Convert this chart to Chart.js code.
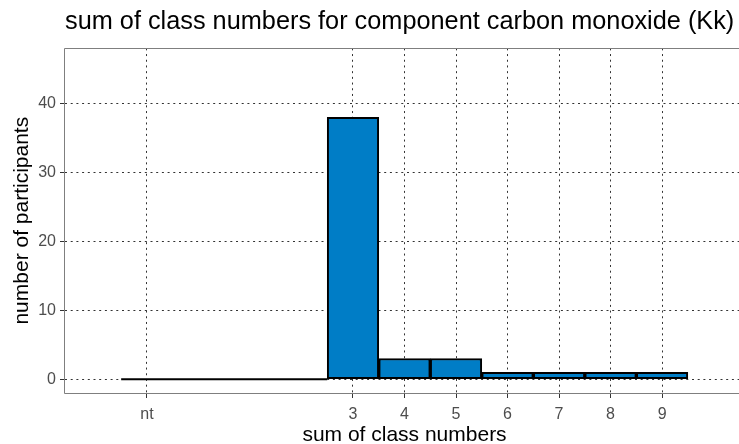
<!DOCTYPE html>
<html>
<head>
<meta charset="utf-8">
<title>sum of class numbers</title>
<script src="https://cdn.jsdelivr.net/npm/chart.js@4.4.1/dist/chart.umd.min.js"></script>
<style>
  html, body { margin: 0; padding: 0; background: #fff; overflow: hidden; }
  #wrap { width: 800px; height: 444px; }
</style>
</head>
<body>
<div id="wrap"><canvas id="classChart" width="800" height="444"></canvas></div>
<script>
// Histogram data: one bin per class-number sum, "nt" sits at -1
const classSums = [-1, 0, 1, 2, 3, 4, 5, 6, 7, 8, 9];
const participants = [0, 0, 0, 0, 38, 3, 3, 1, 1, 1, 1];

// Axis ticks
const xTickValues = [-1, 3, 4, 5, 6, 7, 8, 9];
const xTickLabels = ['nt', '3', '4', '5', '6', '7', '8', '9'];
const yTickValues = [0, 10, 20, 30, 40];

const gridDash = [2, 3.7];
const tickGrey = '#4d4d4d';

Chart.defaults.font.family = "'Liberation Sans', Arial, sans-serif";

// Empty bins are drawn as a flat line along zero
function zeroBinSegments() {
  const points = [];
  classSums.forEach((c, i) => {
    if (participants[i] === 0) {
      points.push({ x: c - 0.5, y: 0 }, { x: c + 0.5, y: 0 });
    }
  });
  return points;
}

// Grey frame round the panel, title flush with the panel's left edge
const panelFrame = {
  id: 'panelFrame',
  afterLayout(chart) {
    if (chart.titleBlock) {
      chart.titleBlock.left = chart.chartArea.left;
    }
  },
  afterDraw(chart) {
    const { ctx, chartArea: a } = chart;
    const l = Math.round(a.left) - 0.5;
    const t = Math.round(a.top) + 0.5;
    const b = Math.round(a.bottom) + 0.5;
    const r = Math.round(a.right) + 0.5;
    ctx.save();
    ctx.strokeStyle = '#7f7f7f';
    ctx.lineWidth = 1;
    ctx.beginPath();
    ctx.moveTo(r, t);
    ctx.lineTo(l, t);
    ctx.lineTo(l, b);
    ctx.lineTo(r, b);
    ctx.stroke();
    ctx.restore();
  }
};

const ctx = document.getElementById('classChart').getContext('2d');
const classChart = new Chart(ctx, {
  type: 'bar',
  data: {
    datasets: [{
      type: 'bar',
      data: classSums.map((c, i) => ({ x: c, y: participants[i] })),
      backgroundColor: '#007dc6',
      borderColor: '#000000',
      borderWidth: 2,
      borderSkipped: false,
      barPercentage: 1,
      categoryPercentage: 1
    }, {
      type: 'line',
      data: zeroBinSegments(),
      borderColor: '#000000',
      borderWidth: 2,
      pointRadius: 0,
      fill: false
    }]
  },
  options: {
    responsive: false,
    animation: false,
    events: [],
    layout: { padding: { left: 0, right: 56, top: 0, bottom: 0 } },
    plugins: {
      legend: { display: false },
      tooltip: { enabled: false },
      title: {
        display: true,
        text: 'sum of class numbers for component carbon monoxide (Kk)',
        align: 'start',
        color: '#000000',
        font: { size: 25.3, weight: 'normal' },
        padding: { top: 7, bottom: 11 }
      }
    },
    scales: {
      x: {
        type: 'linear',
        offset: false,
        min: -2.59,
        max: 10.59,
        afterBuildTicks: scale => {
          scale.ticks = xTickValues.map(v => ({ value: v }));
        },
        afterFit: scale => { scale.height = 51; },
        ticks: {
          callback: (value, index) => xTickLabels[index],
          color: tickGrey,
          font: { size: 16 },
          padding: 7,
          maxRotation: 0,
          autoSkip: false
        },
        grid: { offset: false, color: '#333333', lineWidth: 1, tickLength: 5, tickColor: '#333333', tickWidth: 1 },
        border: { display: false, dash: gridDash },
        title: {
          display: true,
          text: 'sum of class numbers',
          color: '#000000',
          font: { size: 21 },
          padding: { top: 0, bottom: -4 }
        }
      },
      y: {
        min: -2,
        max: 48,
        afterBuildTicks: scale => {
          scale.ticks = yTickValues.map(v => ({ value: v }));
        },
        afterFit: scale => { scale.width = 65; },
        ticks: {
          color: tickGrey,
          font: { size: 16 },
          padding: 4
        },
        grid: { color: '#333333', lineWidth: 1, tickLength: 5, tickColor: '#333333', tickWidth: 1 },
        border: { display: false, dash: gridDash },
        title: {
          display: true,
          text: 'number of participants',
          color: '#000000',
          font: { size: 21 },
          padding: { top: 10, bottom: 0 }
        }
      }
    }
  },
  plugins: [panelFrame]
});
</script>
</body>
</html>
